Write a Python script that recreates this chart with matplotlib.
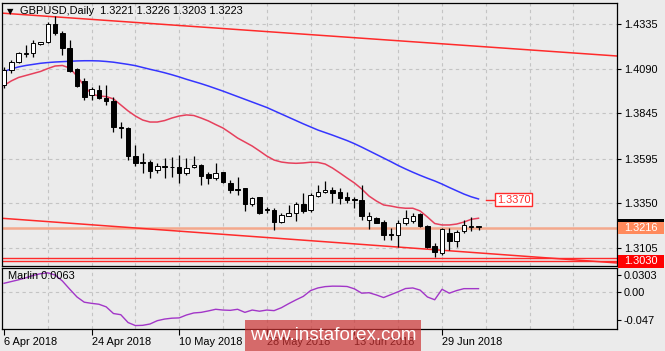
import matplotlib
matplotlib.use("Agg")
import matplotlib.pyplot as plt
from matplotlib.patches import Rectangle

# GBPUSD daily bars, starting 6 Apr 2018
opens = [1.3999, 1.4082, 1.4128, 1.4168, 1.4174, 1.4223, 1.4238, 1.4335, 1.4284, 1.4201,
         1.4086, 1.4022, 1.3945, 1.3972, 1.3930, 1.3913, 1.3769, 1.3763, 1.3609, 1.3576,
         1.3575, 1.3530, 1.3553, 1.3549, 1.3547, 1.3514, 1.3547, 1.3558, 1.3511, 1.3487,
         1.3520, 1.3462, 1.3428, 1.3432, 1.3345, 1.3382, 1.3314, 1.3312, 1.3248, 1.3282,
         1.3294, 1.3344, 1.3312, 1.3389, 1.3410, 1.3422, 1.3410, 1.3382, 1.3374, 1.3370,
         1.3257, 1.3267, 1.3248, 1.3178, 1.3175, 1.3239, 1.3253, 1.3289, 1.3224, 1.3114,
         1.3074, 1.3184, 1.3143, 1.3198, 1.3221, 1.3221]
highs = [1.4099, 1.4137, 1.4183, 1.4220, 1.4247, 1.4238, 1.4348, 1.4380, 1.4299, 1.4247,
         1.4093, 1.4038, 1.3987, 1.3999, 1.3999, 1.3935, 1.3798, 1.3770, 1.3670, 1.3627,
         1.3587, 1.3569, 1.3597, 1.3606, 1.3615, 1.3597, 1.3607, 1.3565, 1.3523, 1.3569,
         1.3523, 1.3477, 1.3495, 1.3435, 1.3385, 1.3385, 1.3330, 1.3322, 1.3294, 1.3340,
         1.3358, 1.3404, 1.3404, 1.3450, 1.3473, 1.3440, 1.3432, 1.3413, 1.3384, 1.3450,
         1.3303, 1.3275, 1.3257, 1.3212, 1.3257, 1.3312, 1.3294, 1.3294, 1.3230, 1.3129,
         1.3212, 1.3212, 1.3202, 1.3257, 1.3275, 1.3226]
lows = [1.3983, 1.4064, 1.4119, 1.4155, 1.4155, 1.4220, 1.4229, 1.4275, 1.4165, 1.4073,
        1.3989, 1.3917, 1.3917, 1.3920, 1.3890, 1.3743, 1.3708, 1.3587, 1.3554, 1.3516,
        1.3487, 1.3514, 1.3487, 1.3491, 1.3459, 1.3505, 1.3542, 1.3450, 1.3455, 1.3477,
        1.3459, 1.3404, 1.3395, 1.3307, 1.3334, 1.3290, 1.3294, 1.3202, 1.3242, 1.3278,
        1.3253, 1.3294, 1.3303, 1.3382, 1.3404, 1.3349, 1.3345, 1.3349, 1.3322, 1.3260,
        1.3206, 1.3239, 1.3147, 1.3147, 1.3111, 1.3230, 1.3239, 1.3221, 1.3102, 1.3056,
        1.3065, 1.3092, 1.3111, 1.3184, 1.3198, 1.3203]
closes = [1.4082, 1.4128, 1.4174, 1.4177, 1.4229, 1.4234, 1.4335, 1.4284, 1.4201, 1.4079,
          1.3994, 1.3935, 1.3976, 1.3926, 1.3913, 1.3771, 1.3764, 1.3609, 1.3569, 1.3572,
          1.3528, 1.3554, 1.3549, 1.3546, 1.3514, 1.3542, 1.3560, 1.3498, 1.3487, 1.3516,
          1.3468, 1.3422, 1.3424, 1.3345, 1.3380, 1.3294, 1.3311, 1.3248, 1.3285, 1.3297,
          1.3345, 1.3307, 1.3395, 1.3410, 1.3422, 1.3404, 1.3377, 1.3367, 1.3369, 1.3279,
          1.3279, 1.3242, 1.3175, 1.3175, 1.3239, 1.3267, 1.3279, 1.3224, 1.3111, 1.3083,
          1.3208, 1.3143, 1.3193, 1.3230, 1.3224, 1.3223]

ma_fast = [1.3997, 1.4022, 1.4041, 1.4052, 1.4063, 1.4074, 1.4090, 1.4104, 1.4107, 1.4093,
           1.4049, 1.3994, 1.3950, 1.3939, 1.3936, 1.3923, 1.3890, 1.3857, 1.3829, 1.3807,
           1.3796, 1.3796, 1.3804, 1.3818, 1.3829, 1.3835, 1.3832, 1.3818, 1.3802, 1.3782,
           1.3763, 1.3736, 1.3708, 1.3686, 1.3664, 1.3637, 1.3609, 1.3587, 1.3576, 1.3571,
           1.3569, 1.3571, 1.3575, 1.3574, 1.3565, 1.3543, 1.3516, 1.3488, 1.3461, 1.3428,
           1.3389, 1.3362, 1.3340, 1.3334, 1.3326, 1.3322, 1.3322, 1.3307, 1.3274, 1.3238,
           1.3230, 1.3230, 1.3235, 1.3246, 1.3261, 1.3267]
ma_slow = [1.4074, 1.4088, 1.4099, 1.4107, 1.4113, 1.4119, 1.4123, 1.4126, 1.4128, 1.4130,
           1.4132, 1.4133, 1.4133, 1.4132, 1.4129, 1.4125, 1.4119, 1.4113, 1.4106, 1.4096,
           1.4086, 1.4077, 1.4067, 1.4056, 1.4044, 1.4031, 1.4019, 1.4007, 1.3994, 1.3980,
           1.3966, 1.3951, 1.3936, 1.3921, 1.3906, 1.3891, 1.3876, 1.3858, 1.3840, 1.3822,
           1.3804, 1.3786, 1.3769, 1.3752, 1.3738, 1.3724, 1.3709, 1.3694, 1.3677, 1.3658,
           1.3638, 1.3618, 1.3598, 1.3578, 1.3557, 1.3538, 1.3520, 1.3503, 1.3487, 1.3472,
           1.3455, 1.3436, 1.3418, 1.3400, 1.3385, 1.3373]
marlin = [0.0155, 0.0185, 0.0215, 0.0250, 0.0290, 0.0320, 0.0335, 0.0298, 0.0195, 0.0055,
          -0.0080, -0.0170, -0.0190, -0.0205, -0.0250, -0.0365, -0.0385, -0.0520, -0.0572, -0.0568,
          -0.0545, -0.0488, -0.0460, -0.0445, -0.0440, -0.0390, -0.0355, -0.0345, -0.0320, -0.0292,
          -0.0305, -0.0310, -0.0292, -0.0345, -0.0305, -0.0325, -0.0305, -0.0315, -0.0265, -0.0195,
          -0.0130, -0.0070, 0.0030, 0.0075, 0.0098, 0.0106, 0.0105, 0.0100, 0.0060, -0.0015,
          -0.0007, -0.0045, -0.0090, -0.0040, 0.0010, 0.0065, 0.0075, 0.0038, -0.0080, -0.0128,
          0.0052, -0.0015, 0.0030, 0.0063, 0.0063, 0.0063]

date_bars = [0, 12, 24, 36, 48, 60]
date_labels = ["6 Apr 2018", "24 Apr 2018", "10 May 2018", "28 May 2018", "13 Jun 2018", "29 Jun 2018"]
price_ticks = [1.4335, 1.4090, 1.3845, 1.3595, 1.3350, 1.3105]
marlin_ticks = [0.0303, 0.0, -0.047]
marlin_tick_labels = ["0.0303", "0.00", "-0.047"]

# trend channel (two points each) and horizontal levels
channel_bars = [0, 84]
channel_top = [1.4394, 1.4159]
channel_bottom = [1.3266, 1.3021]
levels = [1.3050, 1.3030]
last_price = 1.3216
ma_tag = 1.3370

BG = "#ebebeb"
GRID = "#c4c4c4"
FONT = "Liberation Sans"

W, H = 665, 351
fig = plt.figure(figsize=(W / 100, H / 100), dpi=100)
fig.patch.set_facecolor(BG)

ax = fig.add_axes([2 / W, 1 - 265.5 / H, 615 / W, 262.5 / H])
ax2 = fig.add_axes([2 / W, 1 - 329 / H, 615 / W, 60.7 / H])

for a in (ax, ax2):
    a.set_facecolor(BG)
    a.set_xlim(-0.27, 83.97)
    for s in a.spines.values():
        s.set_color("black")
        s.set_linewidth(0.9)
    a.yaxis.tick_right()
    a.tick_params(axis="y", length=3, pad=2, labelsize=7.9, direction="out")
    for lab in a.get_yticklabels():
        lab.set_fontfamily(FONT)
    for gx in range(6, 84, 6):
        a.axvline(gx, color=GRID, lw=0.8, ls=(0, (3, 3)), zorder=0)

ax.set_ylim(1.30071, 1.44505)
ax2.set_ylim(-0.0631, 0.0413)

# ---- main price panel ----
for p in price_ticks:
    ax.axhline(p, color=GRID, lw=0.8, ls=(0, (3, 3)), zorder=0)
ax.set_yticks(price_ticks)
ax.set_yticklabels([f"{p:.4f}" for p in price_ticks], fontfamily=FONT)
ax.set_xticks([])

ax.axline((channel_bars[0], channel_top[0]), (channel_bars[1], channel_top[1]), color="#ff2a2a", lw=1.1, zorder=2)
ax.axline((channel_bars[0], channel_bottom[0]), (channel_bars[1], channel_bottom[1]), color="#ff2a2a", lw=1.1, zorder=2)
for lv in levels:
    ax.axhline(lv, color="#ff2a2a", lw=1.0, zorder=2)
ax.axhline(last_price, color="#f4a88c", lw=1.8, zorder=1)

bars = list(range(len(opens)))
ax.plot(bars, ma_slow, color="#3535ff", lw=1.1, zorder=3)
ax.plot(bars, ma_fast, color="#e6405c", lw=1.1, zorder=3)

ax.vlines(bars, lows, highs, color="black", lw=0.9, zorder=4)
bottoms = [min(o, c) for o, c in zip(opens, closes)]
heights = [max(abs(c - o), 0.0005) for o, c in zip(opens, closes)]
faces = ["white" if c > o else "black" for o, c in zip(opens, closes)]
ax.bar(bars, heights, bottom=bottoms, width=0.62, color=faces, edgecolor="black", linewidth=0.7, zorder=5)

# MA value tag
ax.plot([66, 67.3], [ma_tag, ma_tag], color="#ff2a2a", lw=1.0, clip_on=False)
ax.text(69.85, ma_tag, f"{ma_tag:.4f}", color="#ff2a2a", fontsize=7.9, fontfamily=FONT,
        ha="center", va="center", zorder=6,
        bbox=dict(boxstyle="square,pad=0.15", facecolor="white", edgecolor="#ff2a2a", linewidth=1.0))


def price_tag(price, text, face, color, h=12):
    y = ax.transData.transform((0, price))[1] / fig.bbox.height
    fig.add_artist(Rectangle((618 / W, y - h / 2 / H), 46 / W, h / H, transform=fig.transFigure,
                             facecolor=face, edgecolor="none", zorder=5))
    fig.text(641 / W, y, text, ha="center", va="center", color=color, fontsize=7.9,
             fontfamily=FONT, zorder=6)
    return y


y_last = price_tag(last_price, f"{last_price:.4f}", "#ff8a5c", "white")
fig.add_artist(Rectangle((618 / W, y_last + 6 / H), 46 / W, 2.5 / H, transform=fig.transFigure,
                         facecolor="black", edgecolor="none", zorder=5))
price_tag(levels[1], f"{levels[1]:.4f}", "#ff0000", "white", h=13)

fig.text(7 / W, 1 - 11.5 / H, "\u25bc", fontsize=6, fontfamily="DejaVu Sans", va="center", color="black")
fig.text(20 / W, 1 - 11.5 / H, "GBPUSD,Daily  1.3221 1.3226 1.3203 1.3223", fontsize=7.9,
         fontfamily=FONT, va="center", color="black")

# ---- Marlin panel ----
ax2.axhline(0, color=GRID, lw=0.8, ls=(0, (3, 3)), zorder=0)
ax2.plot(bars, marlin, color="#a236c8", lw=1.0, zorder=3)
ax2.set_yticks(marlin_ticks)
ax2.set_yticklabels(marlin_tick_labels, fontfamily=FONT)
ax2.set_xticks(date_bars)
ax2.set_xticklabels(date_labels, ha="left", fontfamily=FONT)
ax2.tick_params(axis="x", length=4, pad=1.5, labelsize=7.9)
ax2.text(6 / 615, 1 - 8 / 60.7, "Marlin 0.0063", transform=ax2.transAxes, fontsize=7.9,
         fontfamily=FONT, va="center", color="black")

# watermark
fig.add_artist(Rectangle((245 / W, 0), 176 / W, 31 / H, transform=fig.transFigure,
                         facecolor="#cc3333", alpha=0.7, edgecolor="none", zorder=10))
fig.text(333 / W, 1 - 336 / H, "www.instaforex.com", ha="center", va="center", color="white",
         fontsize=13.5, fontfamily=FONT, zorder=11)

fig.savefig("out.png", dpi=100, facecolor=BG)
